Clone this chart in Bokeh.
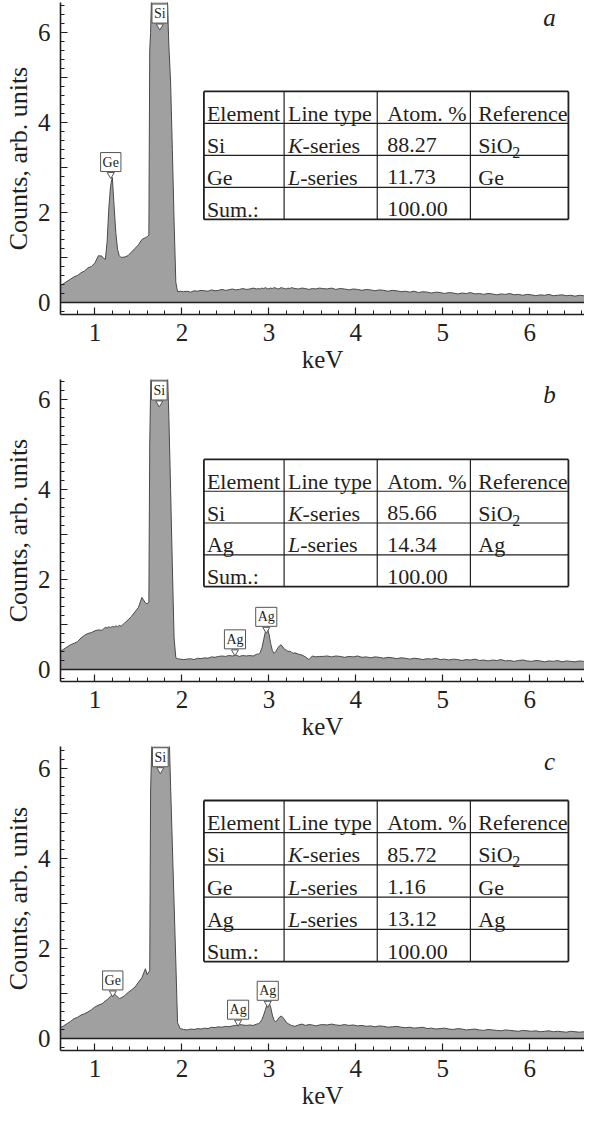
import math
from bokeh.plotting import figure
from bokeh.layouts import column
from bokeh.models import Range1d, SingleIntervalTicker, Label, Span, ColumnDataSource
from bokeh.embed import file_html
from bokeh.resources import INLINE

FONT = "'Liberation Serif', serif"
INK = "#231f20"

# ---------------- data ----------------
energy_keV = [
    0.60, 0.64, 0.68, 0.72, 0.76, 0.80, 0.84, 0.88, 0.92, 0.96, 1.00, 1.04, 1.08,
    1.10, 1.12, 1.14, 1.16, 1.18, 1.20, 1.22, 1.24, 1.26, 1.28, 1.30,
    1.34, 1.38, 1.42, 1.46, 1.50, 1.54, 1.58,
    1.60, 1.62, 1.63, 1.64, 1.66, 1.70, 1.74, 1.78, 1.82, 1.85, 1.87, 1.89, 1.91, 1.93, 1.95, 1.98,
    2.02, 2.06, 2.10, 2.14, 2.18, 2.22, 2.26, 2.30, 2.34, 2.38, 2.42, 2.46, 2.50, 2.54, 2.58, 2.62,
    2.66, 2.70, 2.74, 2.78, 2.82, 2.86,
    2.88, 2.90, 2.92, 2.94, 2.96, 2.98, 3.00, 3.02, 3.04, 3.06, 3.08, 3.10, 3.12, 3.14, 3.16, 3.18,
    3.20, 3.22, 3.24, 3.26, 3.28, 3.30,
    3.34, 3.38, 3.42, 3.46, 3.50, 3.54, 3.58,
    3.62, 3.67, 3.72, 3.77, 3.82, 3.87, 3.92, 3.97, 4.02, 4.07,
    4.12, 4.17, 4.22, 4.27, 4.32, 4.37, 4.42, 4.47, 4.52, 4.57,
    4.62, 4.67, 4.72, 4.77, 4.82, 4.87, 4.92, 4.97, 5.02, 5.07,
    5.12, 5.17, 5.22, 5.27, 5.32, 5.37, 5.42, 5.47, 5.52, 5.57,
    5.62, 5.67, 5.72, 5.77, 5.82, 5.87, 5.92, 5.97, 6.02, 6.07,
    6.12, 6.17, 6.22, 6.27, 6.32, 6.37, 6.42, 6.47, 6.52, 6.57,
    6.62, 6.67,
]

counts_a = [
    0.37, 0.42, 0.47, 0.52, 0.57, 0.60, 0.66, 0.70, 0.77, 0.80, 0.88, 1.04, 1.03,
    0.98, 0.96, 1.35, 2.10, 2.60, 2.78, 2.15, 1.55, 1.18, 1.04, 1.00,
    1.01, 1.04, 1.12, 1.20, 1.28, 1.40, 1.44,
    1.46, 1.50, 5.60, 6.00, 7.50, 9.00, 9.50, 9.00, 7.50, 5.70, 4.90, 3.40, 1.80, 0.45, 0.24, 0.25,
    0.24, 0.25, 0.23, 0.26, 0.25, 0.27, 0.26, 0.25, 0.28, 0.26, 0.27, 0.29, 0.27, 0.28, 0.30, 0.28,
    0.29, 0.31, 0.29, 0.30, 0.32, 0.30,
    0.31, 0.30, 0.32, 0.31, 0.33, 0.31, 0.30, 0.32, 0.31, 0.33, 0.32, 0.30, 0.31, 0.33, 0.32, 0.31,
    0.30, 0.32, 0.31, 0.33, 0.32, 0.31,
    0.30, 0.32, 0.31, 0.29, 0.31, 0.30, 0.32,
    0.31, 0.30, 0.32, 0.29, 0.31, 0.30, 0.28, 0.30, 0.29, 0.27,
    0.29, 0.28, 0.26, 0.28, 0.27, 0.25, 0.27, 0.26, 0.24, 0.25,
    0.23, 0.25, 0.22, 0.24, 0.23, 0.21, 0.23, 0.22, 0.20, 0.22,
    0.21, 0.19, 0.21, 0.20, 0.22, 0.19, 0.20, 0.18, 0.20, 0.19,
    0.17, 0.19, 0.18, 0.20, 0.17, 0.18, 0.16, 0.18, 0.17, 0.15,
    0.17, 0.16, 0.18, 0.15, 0.16, 0.17, 0.15, 0.16, 0.14, 0.16,
    0.15, 0.14,
]

counts_b = [
    0.40, 0.45, 0.50, 0.55, 0.58, 0.62, 0.70, 0.76, 0.80, 0.82, 0.86, 0.88, 0.87,
    0.90, 0.94, 0.92, 0.95, 0.93, 0.96, 0.94, 0.97, 0.95, 0.98, 0.96,
    1.03, 1.10, 1.18, 1.28, 1.38, 1.60, 1.48,
    1.46, 1.50, 5.00, 6.20, 8.00, 9.00, 9.50, 9.00, 7.50, 5.60, 4.00, 2.30, 0.70, 0.26, 0.24, 0.23,
    0.22, 0.23, 0.24, 0.22, 0.25, 0.24, 0.26, 0.25, 0.28, 0.27, 0.29, 0.30, 0.29, 0.31, 0.30, 0.32,
    0.29, 0.31, 0.30, 0.31, 0.30, 0.34,
    0.34, 0.38, 0.48, 0.66, 0.84, 0.92, 0.80, 0.58, 0.42, 0.36, 0.40, 0.47, 0.52, 0.55, 0.50, 0.45,
    0.43, 0.40, 0.41, 0.38, 0.36, 0.37,
    0.34, 0.32, 0.28, 0.22, 0.30, 0.28, 0.29,
    0.29, 0.30, 0.28, 0.30, 0.29, 0.27, 0.29, 0.28, 0.30, 0.27,
    0.28, 0.26, 0.28, 0.27, 0.25, 0.27, 0.26, 0.24, 0.26, 0.25,
    0.23, 0.25, 0.24, 0.22, 0.24, 0.23, 0.25, 0.22, 0.23, 0.21,
    0.23, 0.22, 0.20, 0.22, 0.21, 0.23, 0.20, 0.21, 0.19, 0.21,
    0.20, 0.22, 0.19, 0.20, 0.18, 0.20, 0.21, 0.19, 0.18, 0.20,
    0.19, 0.17, 0.19, 0.18, 0.20, 0.17, 0.19, 0.18, 0.17, 0.19,
    0.18, 0.17,
]

counts_c = [
    0.24, 0.28, 0.33, 0.38, 0.44, 0.47, 0.52, 0.55, 0.59, 0.64, 0.70, 0.74, 0.77,
    0.80, 0.84, 0.86, 0.90, 0.94, 0.98, 1.00, 0.96, 0.92, 0.89, 0.90,
    0.95, 1.02, 1.08, 1.14, 1.25, 1.35, 1.55,
    1.42, 1.48, 1.50, 5.50, 7.00, 9.00, 9.50, 9.00, 8.00, 7.00, 5.60, 4.30, 3.00, 1.70, 0.35, 0.22,
    0.20, 0.19, 0.21, 0.20, 0.22, 0.21, 0.23, 0.22, 0.25, 0.24, 0.26, 0.25, 0.27, 0.26, 0.28, 0.29,
    0.31, 0.30, 0.29, 0.30, 0.29, 0.32,
    0.33, 0.36, 0.42, 0.52, 0.64, 0.76, 0.81, 0.70, 0.52, 0.40, 0.37, 0.42, 0.47, 0.50, 0.47, 0.42,
    0.36, 0.33, 0.31, 0.29, 0.28, 0.27,
    0.30, 0.32, 0.29, 0.31, 0.30, 0.28, 0.30,
    0.31, 0.30, 0.32, 0.30, 0.29, 0.31, 0.29, 0.30, 0.28, 0.29,
    0.27, 0.28, 0.26, 0.28, 0.27, 0.25, 0.26, 0.27, 0.25, 0.24,
    0.25, 0.23, 0.24, 0.25, 0.22, 0.23, 0.21, 0.22, 0.23, 0.21,
    0.20, 0.22, 0.21, 0.19, 0.20, 0.21, 0.19, 0.18, 0.20, 0.19,
    0.18, 0.17, 0.19, 0.18, 0.17, 0.16, 0.18, 0.17, 0.16, 0.17,
    0.15, 0.16, 0.17, 0.15, 0.16, 0.15, 0.14, 0.16, 0.15, 0.14,
    0.15, 0.14,
]

table_a = [
    ["Element", "Line type", "Atom. %", "Reference"],
    ["Si", "K-series", "88.27", "SiO2"],
    ["Ge", "L-series", "11.73", "Ge"],
    ["Sum.:", "", "100.00", ""],
]
table_b = [
    ["Element", "Line type", "Atom. %", "Reference"],
    ["Si", "K-series", "85.66", "SiO2"],
    ["Ag", "L-series", "14.34", "Ag"],
    ["Sum.:", "", "100.00", ""],
]
table_c = [
    ["Element", "Line type", "Atom. %", "Reference"],
    ["Si", "K-series", "85.72", "SiO2"],
    ["Ge", "L-series", "1.16", "Ge"],
    ["Ag", "L-series", "13.12", "Ag"],
    ["Sum.:", "", "100.00", ""],
]

# peak callouts: (element, energy keV, label height)
peaks_a = [("Si", 1.746, 6.42), ("Ge", 1.182, 3.12)]
peaks_b = [("Si", 1.740, 6.20), ("Ag", 2.610, 0.67), ("Ag", 2.970, 1.17)]
peaks_c = [("Si", 1.752, 6.25), ("Ge", 1.205, 1.29), ("Ag", 2.646, 0.64), ("Ag", 2.987, 1.06)]

# ---------------- layout helpers ----------------
PX_X = 87.8   # px per keV
PX_Y = 45.0   # px per count unit
X_RANGE = (0.604, 6.629)
Y_START = -0.267
TABLE_X = [2.253, 3.175, 4.246, 5.317, 6.444]
PAD_PX = [3, 4, 10, 8]
TFS = 22


def dx(px):
    return px / PX_X


def dy(px):
    return px / PX_Y


def txt(p, x, y, s, size, style="normal", align="left", baseline="alphabetic"):
    p.add_layout(Label(x=x, y=y, text=s, text_font=FONT, text_font_size=f"{size}px",
                       text_font_style=style, text_color=INK, text_align=align,
                       text_baseline=baseline))


def cell_text(p, x0, base, s):
    if s == "SiO2":
        txt(p, x0, base, "SiO", TFS)
        txt(p, x0 + dx(1.556 * TFS), base - dy(7), "2", 16)
    elif s.endswith("-series"):
        w = {"K": 0.667, "L": 0.556}.get(s[0], 0.6) * TFS
        txt(p, x0, base, s[0], TFS, style="italic")
        txt(p, x0 + dx(w), base, s[1:], TFS)
    else:
        txt(p, x0, base, s, TFS)


def make_panel(counts, table, table_top, row_h, peaks, letter, height,
               top_border, bottom_border, y_end):
    p = figure(width=584, height=height, x_range=Range1d(*X_RANGE),
               y_range=Range1d(Y_START, y_end), output_backend="svg",
               toolbar_location=None, min_border=0, min_border_left=55,
               min_border_right=0, min_border_top=top_border,
               min_border_bottom=bottom_border)
    p.outline_line_color = None
    p.xgrid.visible = False
    p.ygrid.visible = False
    p.background_fill_color = "white"
    p.border_fill_color = "white"

    src = ColumnDataSource(dict(x=energy_keV, y=counts))
    p.varea(x="x", y1=0, y2="y", source=src, fill_color="#a0a0a0")
    p.line(x="x", y="y", source=src, line_color="#4a4a4a", line_width=1)
    p.add_layout(Span(location=0, dimension="width", line_color=INK, line_width=1.6))

    for ax in (p.xaxis[0], p.yaxis[0]):
        ax.ticker = SingleIntervalTicker(interval=1, num_minor_ticks=5)
        ax.major_tick_in = 7
        ax.major_tick_out = 0
        ax.minor_tick_in = 4
        ax.minor_tick_out = 0
        ax.axis_line_color = INK
        ax.axis_line_width = 1.6
        ax.major_tick_line_color = INK
        ax.minor_tick_line_color = INK
        ax.major_tick_line_width = 1.2
        ax.minor_tick_line_width = 1
        ax.major_label_text_font = FONT
        ax.major_label_text_font_size = "25px"
        ax.major_label_text_color = INK
        ax.axis_label_text_font = FONT
        ax.axis_label_text_font_style = "normal"
        ax.axis_label_text_color = INK
    xa, ya = p.xaxis[0], p.yaxis[0]
    xa.major_label_standoff = 9
    xa.axis_label = "keV"
    xa.axis_label_text_font_size = "25px"
    xa.axis_label_standoff = 2
    ya.major_label_standoff = 10
    ya.major_label_overrides = {1: "", 3: "", 5: ""}
    ya.axis_label = "Counts, arb. units"
    ya.axis_label_text_font_size = "26px"
    ya.axis_label_standoff = 2

    # panel letter
    txt(p, 6.228, y_end - 0.33, letter, 25, style="italic", align="center", baseline="middle")

    # table
    nrows = len(table)
    ys = [table_top - i * row_h for i in range(nrows + 1)]
    x0s, y0s, x1s, y1s, ws = [], [], [], [], []
    for i, yv in enumerate(ys):
        x0s.append(TABLE_X[0]); x1s.append(TABLE_X[-1]); y0s.append(yv); y1s.append(yv)
        ws.append(1.8 if i in (0, nrows) else 1.2)
    for j, xv in enumerate(TABLE_X):
        x0s.append(xv); x1s.append(xv); y0s.append(ys[0]); y1s.append(ys[-1])
        ws.append(1.8 if j in (0, len(TABLE_X) - 1) else 1.2)
    p.quad(left=TABLE_X[0], right=TABLE_X[-1], top=ys[0], bottom=ys[-1],
           fill_color="white", line_color=None)
    p.segment(x0=x0s, y0=y0s, x1=x1s, y1=y1s, line_color=INK, line_width=ws)
    for r, row in enumerate(table):
        base = ys[r + 1] + dy(10)
        for c, cell in enumerate(row):
            if cell:
                cell_text(p, TABLE_X[c] + dx(PAD_PX[c]), base, cell)

    # peak callouts
    tx, ty = [], []
    for name, ex, ly in peaks:
        tx.append(ex)
        ty.append(ly - dy(12.5))
    p.scatter(x=tx, y=ty, marker="inverted_triangle", size=7, fill_color="white",
              line_color="#555555", line_width=1)
    for name, ex, ly in peaks:
        p.add_layout(Label(x=ex, y=ly, text=name, text_font=FONT, text_font_size="14px",
                           text_color=INK, text_align="center", text_baseline="middle",
                           background_fill_color="white", border_line_color="#555555",
                           border_line_width=1, padding=2))
    return p


pa = make_panel(counts_a, table_a, 4.689, 0.711, peaks_a, "a", 379, 2, 65, 6.666)
pb = make_panel(counts_b, table_b, 4.667, 0.706, peaks_b, "b", 367, 0, 65, 6.444)
pc = make_panel(counts_c, table_c, 5.289, 0.716, peaks_c, "c", 369, 0, 65, 6.489)

layout = column(pa, pb, pc, spacing=0)
open("out.html", "w").write(file_html(layout, INLINE))
